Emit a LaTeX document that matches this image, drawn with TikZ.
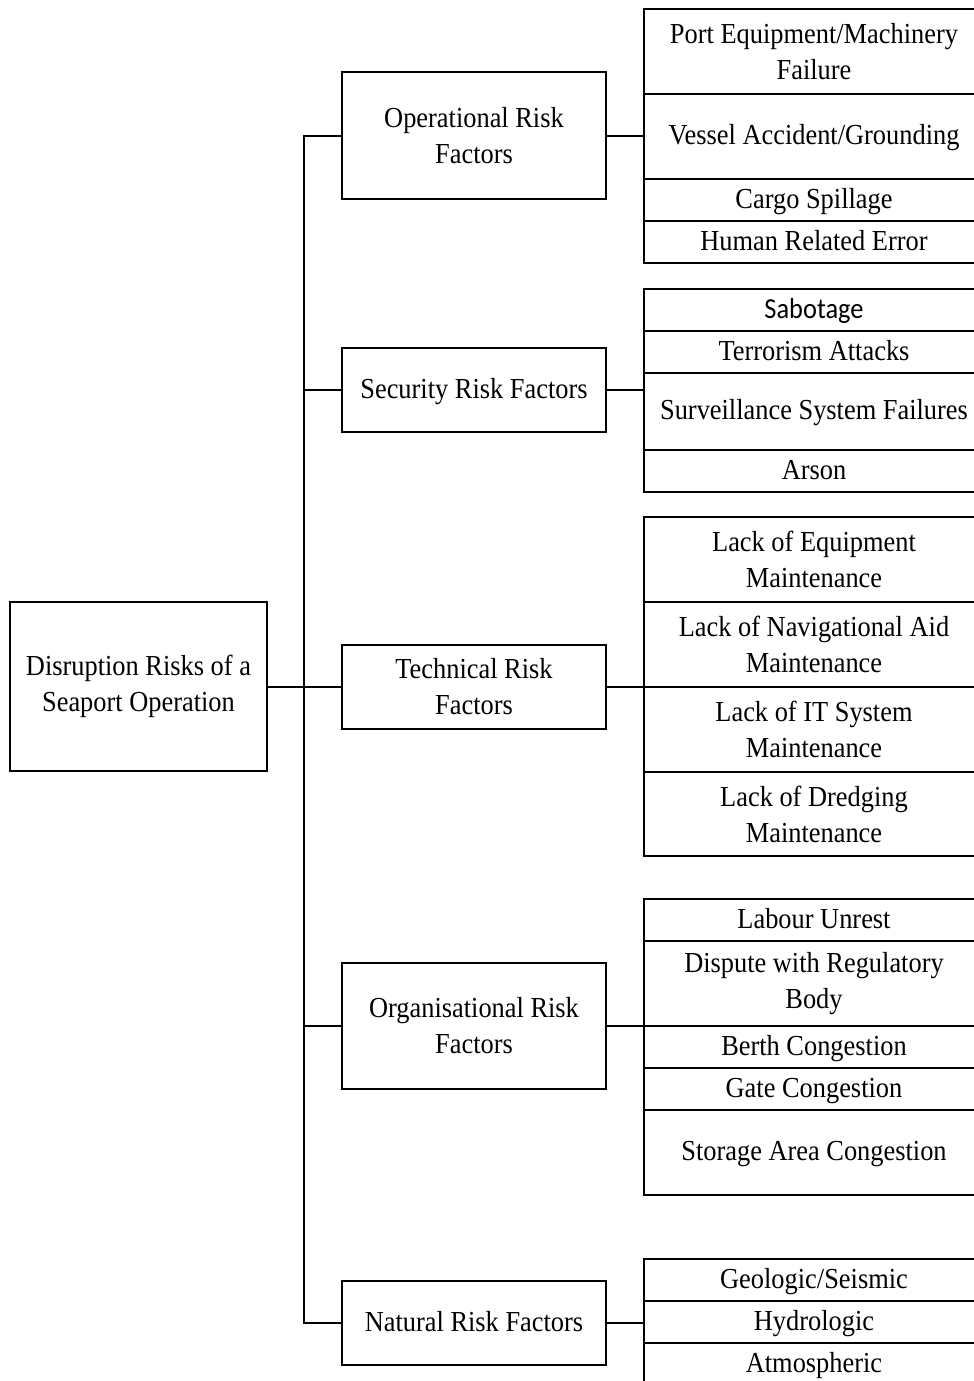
\documentclass[tikz,border=0pt]{standalone}
\usepackage{fontspec}
\setmainfont{Liberation Serif}[FakeStretch=0.91]
\newfontfamily\calfont{Carlito}[FakeStretch=0.91]
\usepackage{tikz}

\begin{document}
\begin{tikzpicture}[x=1pt, y=-1pt, line width=2,
  box/.style={draw, align=center, inner sep=0, text height=16, text depth=0,
    font=\fontsize{29}{36}\selectfont},
  two/.style={text height={}, text depth={}},
  mainbox/.style={box, two, minimum width=257, minimum height=169},
  riskbox/.style={box, minimum width=264},
  item/.style={box, minimum width=340}]
  \useasboundingbox (0,0) rectangle (974,1381);
  % root and risk groups
  \node [mainbox] (root) at (138.5, 686.5) {Disruption Risks of a\\Seaport Operation};
  \node [riskbox, two, minimum height=127] (opr) at (474, 135.5) {Operational Risk\\Factors};
  \node [riskbox, minimum height=84] (sec) at (474, 390) {Security Risk Factors};
  \node [riskbox, two, minimum height=84] (tec) at (474, 687) {Technical Risk\\Factors};
  \node [riskbox, two, minimum height=126] (org) at (474, 1026) {Organisational Risk\\Factors};
  \node [riskbox, minimum height=84] (nat) at (474, 1323) {Natural Risk Factors};
  \coordinate (trunk) at (304, 686.5);
  % operational
  \node [item, two, minimum height=85] (op1) at (814, 51.5) {Port Equipment/Machinery\\Failure};
  \node [item, minimum height=85] (op2) at (814, 136.5) {Vessel Accident/Grounding};
  \node [item, minimum height=42] (op3) at (814, 200) {Cargo Spillage};
  \node [item, minimum height=42] (op4) at (814, 242) {Human Related Error};
  % security
  \node [item, minimum height=42] (se1) at (814, 310) {\calfont Sabotage};
  \node [item, minimum height=42] (se2) at (814, 352) {Terrorism Attacks};
  \node [item, minimum height=77] (se3) at (814, 411.5) {Surveillance System Failures};
  \node [item, minimum height=42] (se4) at (814, 471) {Arson};
  % technical
  \node [item, two, minimum height=85] (te1) at (814, 559.5) {Lack of Equipment\\Maintenance};
  \node [item, two, minimum height=85] (te2) at (814, 644.5) {Lack of Navigational Aid\\Maintenance};
  \node [item, two, minimum height=85] (te3) at (814, 729.5) {Lack of IT System\\Maintenance};
  \node [item, two, minimum height=84] (te4) at (814, 814) {Lack of Dredging\\Maintenance};
  % organisational
  \node [item, minimum height=42] (or1) at (814, 920) {Labour Unrest};
  \node [item, two, minimum height=85] (or2) at (814, 983.5) {Dispute with Regulatory\\Body};
  \node [item, minimum height=42] (or3) at (814, 1047) {Berth Congestion};
  \node [item, minimum height=42] (or4) at (814, 1089) {Gate Congestion};
  \node [item, minimum height=85] (or5) at (814, 1152.5) {Storage Area Congestion};
  % natural
  \node [item, minimum height=42] (na1) at (814, 1280) {Geologic/Seismic};
  \node [item, minimum height=42] (na2) at (814, 1322) {Hydrologic};
  \node [item, minimum height=42] (na3) at (814, 1364) {Atmospheric};
  % connectors
  \draw (root.east) -- (trunk);
  \draw (opr.west) -| (trunk) |- (nat.west);
  \draw (sec.west) -- (sec.west -| trunk);
  \draw (tec.west) -- (tec.west -| trunk);
  \draw (org.west) -- (org.west -| trunk);
  \draw (opr.east) -- (opr.east -| op2.west);
  \draw (sec.east) -- (sec.east -| se3.west);
  \draw (tec.east) -- (tec.east -| te2.west);
  \draw (org.east) -- (org.east -| or2.west);
  \draw (nat.east) -- (nat.east -| na2.west);
\end{tikzpicture}
\end{document}
